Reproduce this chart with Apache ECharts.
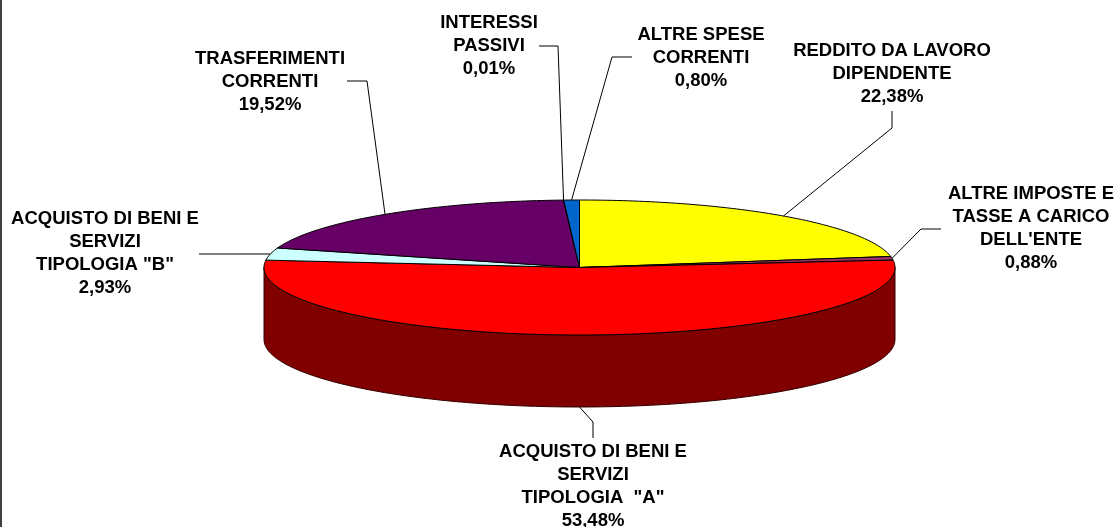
<!DOCTYPE html>
<html><head><meta charset="utf-8">
<style>html,body{margin:0;padding:0;background:#fff}#c{width:1120px;height:527px}</style>
<script src="https://cdn.jsdelivr.net/npm/echarts@6/dist/echarts.min.js"></script>
</head><body><div id="c"></div>
<script>
const categories = ['REDDITO DA LAVORO\nDIPENDENTE','ALTRE IMPOSTE E\nTASSE A CARICO\nDELL\'ENTE','ACQUISTO DI BENI E\nSERVIZI\nTIPOLOGIA  "A"','ACQUISTO DI BENI E\nSERVIZI\nTIPOLOGIA "B"','TRASFERIMENTI\nCORRENTI','INTERESSI\nPASSIVI','ALTRE SPESE\nCORRENTI'];
const values = [22.38,0.88,53.48,2.93,19.52,0.01,0.80];
const percentLabels = ['22,38%','0,88%','53,48%','2,93%','19,52%','0,01%','0,80%'];
const topColors = ['#ffff00','#993366','#ff0000','#ccffff','#660066','#ff8080','#0066cc'];
const wallColors = ['#808000','#4d1933','#800000','#669999','#330033','#804040','#003366'];
// label placement: [centre x, first-line centre y, elbow x, elbow y, line start x, line start y]
const labelLayout = [
 [892,50,892,128,892,111],
 [1031,193,921,229,941,229],
 [593,451,593,422,593,438],
 [105,218,null,null,199,254],
 [270,58,367,81,347,81],
 [489,22,558,46,539,46],
 [701,34,612,57,632,57]
];
const PIE = {cx:579.5, cy:267.5, rx:315.5, ry:67.5, depth:72};
const total = values.reduce((a,b)=>a+b,0);
const starts = []; { let s=0; values.forEach(v=>{starts.push(s); s+=v/total*360;}); }
const pt = (deg,dy)=>{const r=deg*Math.PI/180; return [PIE.cx+PIE.rx*Math.sin(r), PIE.cy-PIE.ry*Math.cos(r)+(dy||0)];};
const arc = (a,b,dy)=>{const n=Math.max(2,Math.ceil(Math.abs(b-a)));const o=[];for(let i=0;i<=n;i++)o.push(pt(a+(b-a)*i/n,dy));return o;};
const data = values.map((v,i)=>[i,v]);
const lineStyle = {stroke:'#000',lineWidth:1,fill:null};

const option = {
 animation:false,
 graphic:[{type:'rect',shape:{x:0,y:0,width:2,height:527},style:{fill:'#404040'},silent:true}],
 series:[
  {type:'custom',coordinateSystem:'none',silent:true,z:1,data,
   renderItem(p,api){
    const i=api.value(0),a=starts[i],b=a+api.value(1)/total*360;
    const s=Math.max(a,90),e=Math.min(b,270);
    if(e<=s) return {type:'group',children:[]};
    return {type:'polygon',shape:{points:arc(s,e,0).concat(arc(e,s,PIE.depth))},
      style:{fill:wallColors[i],stroke:'#300000',lineWidth:1,lineJoin:'round'}};
   }},
  {type:'custom',coordinateSystem:'none',silent:true,z:2,data,
   renderItem(p,api){
    const i=api.value(0),a=starts[i],b=a+api.value(1)/total*360;
    return {type:'polygon',shape:{points:[[PIE.cx,PIE.cy]].concat(arc(a,b,0))},
      style:{fill:topColors[i],stroke:'#000',lineWidth:1,lineJoin:'round'}};
   }},
  {type:'custom',coordinateSystem:'none',silent:true,z:3,data,
   renderItem(p,api){
    const i=api.value(0),a=starts[i],b=a+api.value(1)/total*360,mid=(a+b)/2;
    const L=labelLayout[i];
    const anchor=pt(mid,(mid>90&&mid<270&&i===2)?PIE.depth:0);
    const pts=L[2]===null?[[L[4],L[5]],anchor]:[[L[4],L[5]],[L[2],L[3]],anchor];
    return {type:'group',children:[
      {type:'polyline',shape:{points:pts},style:Object.assign({},lineStyle)},
      {type:'text',style:{x:L[0],y:L[1]-11,text:categories[i]+'\n'+percentLabels[i],align:'center',verticalAlign:'top',
        font:'bold 18.5px "Liberation Sans", Arial, sans-serif',lineHeight:23,fill:'#000'}}
    ]};
   }}
 ]
};
const chart=echarts.init(document.getElementById('c'),null,{renderer:'canvas'});
chart.setOption(option);
</script></body></html>
